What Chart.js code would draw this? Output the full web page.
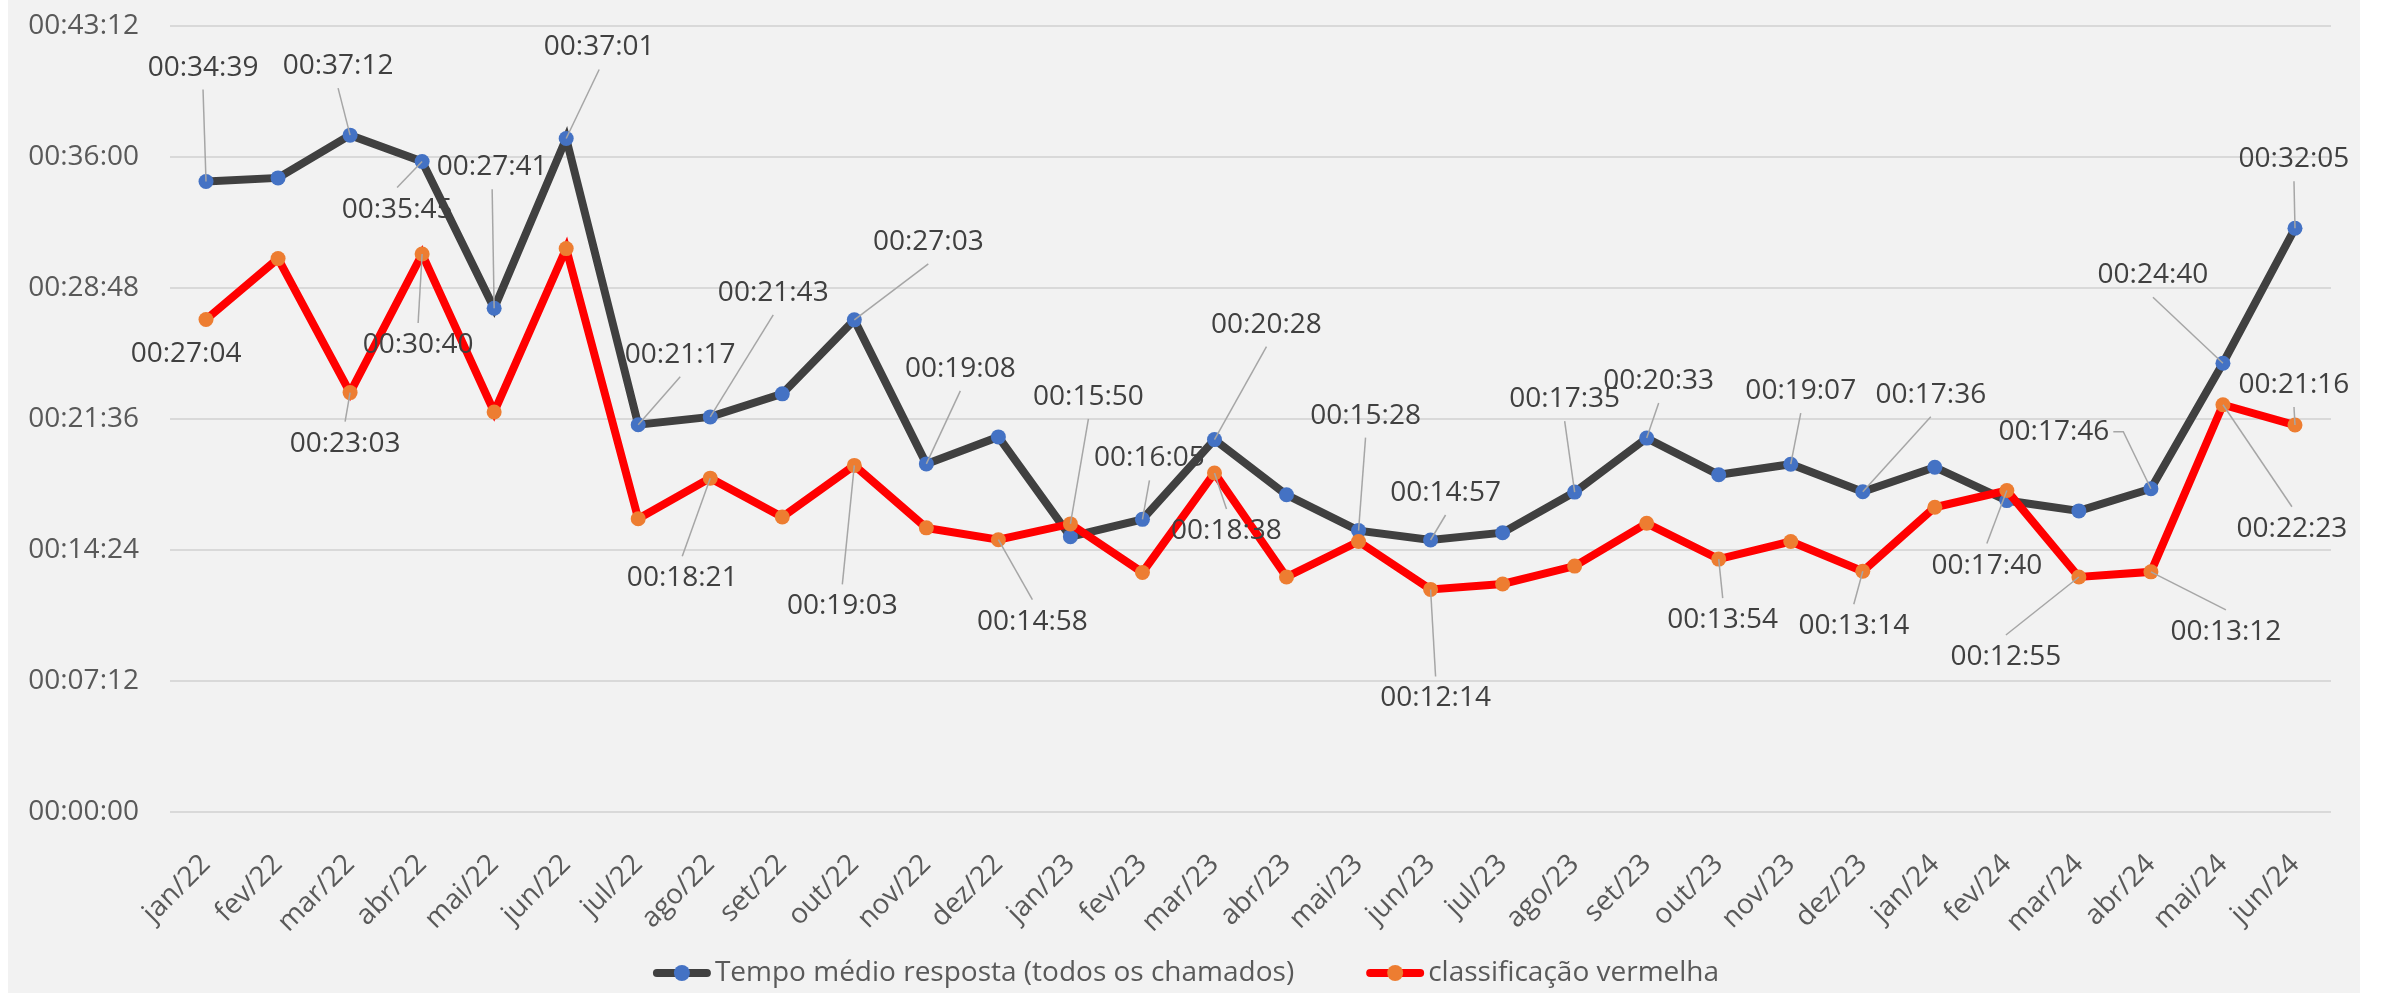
<!DOCTYPE html>
<html>
<head>
<meta charset="utf-8">
<script src="https://cdn.jsdelivr.net/npm/chart.js@4.4.1/dist/chart.umd.min.js"></script>
<style>
  html, body { margin: 0; padding: 0; background: #ffffff; }
  #wrap { width: 2381px; height: 994px; }
</style>
</head>
<body>
<div id="wrap"><canvas id="chart" width="2381" height="994"></canvas></div>
<script>
// months on the x axis
const months = ['jan/22', 'fev/22', 'mar/22', 'abr/22', 'mai/22', 'jun/22', 'jul/22', 'ago/22', 'set/22', 'out/22',
    'nov/22', 'dez/22', 'jan/23', 'fev/23', 'mar/23', 'abr/23', 'mai/23', 'jun/23', 'jul/23', 'ago/23',
    'set/23', 'out/23', 'nov/23', 'dez/23', 'jan/24', 'fev/24', 'mar/24', 'abr/24', 'mai/24', 'jun/24'];

// values in seconds
const tempoMedio = [2079, 2091, 2232, 2145, 1661, 2221, 1277, 1303, 1379, 1623,
    1148, 1237, 908, 965, 1228, 1046, 928, 897, 921, 1055,
    1233, 1112, 1147, 1056, 1137, 1027, 993, 1066, 1480, 1925];
const vermelha = [1624, 1825, 1383, 1840, 1319, 1858, 967, 1101, 973, 1143,
    937, 898, 950, 790, 1118, 775, 892, 734, 752, 811,
    952, 834, 892, 794, 1005, 1060, 775, 792, 1343, 1276];

// y axis: 00:00:00 .. 00:43:12 every 00:07:12
const yMax = 2592;
const yStep = 432;

// label placement (offset from the point, px) for the points that carry a label
const labelPosTempo = {
    0: [-3, -114], 2: [-12, -69], 3: [-25, 48], 4: [-2, -141], 5: [33, -91], 6: [42, -70],
    7: [63, -124], 9: [74, -78], 10: [34, -95], 13: [7, -61], 14: [52, -115], 16: [7, -115],
    17: [15, -47], 19: [-10, -93], 20: [12, -57], 22: [10, -73], 23: [68, -97],
    27: [-97, -57, 'side'], 28: [-70, -88], 29: [-1, -69]
};
const labelPosVermelha = {
    0: [-20, 34, 'none'], 2: [-5, 51], 3: [-4, 91], 7: [-28, 100], 9: [-12, 141], 11: [34, 82],
    12: [18, -127], 14: [12, 58], 17: [5, 109], 21: [4, 61], 23: [-9, 55], 25: [-20, 75],
    26: [-73, 80], 27: [75, 60], 28: [69, 124], 29: [-1, -40]
};

const FONT = '"Open Sans", "DejaVu Sans", sans-serif';

const fmt = (s) => {
    const h = Math.floor(s / 3600);
    const m = Math.floor((s % 3600) / 60);
    const sec = Math.round(s % 60);
    const p = (n) => String(n).padStart(2, '0');
    return `${p(h)}:${p(m)}:${p(sec)}`;
};

const background = {
    id: 'background',
    beforeDraw(chart) {
        const ctx = chart.ctx;
        ctx.save();
        ctx.fillStyle = '#ffffff';
        ctx.fillRect(0, 0, chart.width, chart.height);
        ctx.fillStyle = '#f2f2f2';
        ctx.fillRect(8, 0, 2352, 993);
        ctx.restore();
    }
};

// data labels with leader lines, like the Excel original
const dataLabels = {
    id: 'dataLabels',
    afterDatasetsDraw(chart) {
        const ctx = chart.ctx;
        const sets = [labelPosTempo, labelPosVermelha];
        ctx.save();
        ctx.font = '28px ' + FONT;
        sets.forEach((pos, di) => {
            const meta = chart.getDatasetMeta(di);
            const values = chart.data.datasets[di].data;
            Object.keys(pos).forEach(k => {
                const i = Number(k);
                const pt = meta.data[i];
                const [dx, dy, mode] = pos[k];
                const cx = pt.x + dx;
                const cy = pt.y + dy;
                const text = fmt(values[i]);
                const hw = ctx.measureText(text).width / 2 + 4;
                const hh = 22;

                if (mode !== 'none') {
                    ctx.strokeStyle = '#a6a6a6';
                    ctx.lineWidth = 1.5;
                    ctx.beginPath();
                    if (mode === 'side') {
                        const sx = cx + Math.sign(dx * -1) * hw;
                        ctx.moveTo(sx, cy);
                        ctx.lineTo(sx + Math.sign(-dx) * 10, cy);
                        ctx.lineTo(pt.x, pt.y);
                    } else {
                        let sx = cx, sy = cy;
                        if (pt.y > cy + hh) sy = cy + hh;
                        else if (pt.y < cy - hh) sy = cy - hh;
                        else sx = cx + (pt.x > cx ? hw : -hw);
                        ctx.moveTo(sx, sy);
                        ctx.lineTo(pt.x, pt.y);
                    }
                    ctx.stroke();
                }

                ctx.fillStyle = '#404040';
                ctx.textAlign = 'center';
                ctx.textBaseline = 'middle';
                ctx.fillText(text, cx, cy);
            });
        });
        ctx.restore();
    }
};

// legend: thick line with a marker in the middle, then the text
const customLegend = {
    id: 'customLegend',
    afterDraw(chart) {
        const ctx = chart.ctx;
        const y = 973;
        const lineW = 58;
        const gapText = 4;
        const gapItems = 72;
        ctx.save();
        ctx.font = '28px ' + FONT;
        const items = chart.data.datasets.map(ds => ({
            text: ds.label,
            line: ds.borderColor,
            dot: ds.pointBackgroundColor,
            w: lineW + gapText + ctx.measureText(ds.label).width
        }));
        const total = items.reduce((a, it) => a + it.w, 0) + gapItems * (items.length - 1);
        let x = 1186 - total / 2;
        items.forEach(it => {
            ctx.strokeStyle = it.line;
            ctx.lineWidth = 8;
            ctx.lineCap = 'round';
            ctx.beginPath();
            ctx.moveTo(x + 4, y);
            ctx.lineTo(x + lineW - 4, y);
            ctx.stroke();
            ctx.fillStyle = it.dot;
            ctx.beginPath();
            ctx.arc(x + lineW / 2, y, 8, 0, Math.PI * 2);
            ctx.fill();
            ctx.fillStyle = '#595959';
            ctx.textAlign = 'left';
            ctx.textBaseline = 'middle';
            ctx.fillText(it.text, x + lineW + gapText, y);
            x += it.w + gapItems;
        });
        ctx.restore();
    }
};

Chart.defaults.font.family = FONT;
Chart.defaults.font.size = 28;
Chart.defaults.color = '#595959';

const ctx = document.getElementById('chart').getContext('2d');
const chart = new Chart(ctx, {
    type: 'line',
    data: {
        labels: months,
        datasets: [{
            label: 'Tempo médio resposta (todos os chamados)',
            data: tempoMedio,
            borderColor: '#404040',
            borderWidth: 8,
            pointBackgroundColor: '#4472c4',
            pointBorderWidth: 0,
            pointRadius: 7.5,
            tension: 0,
            order: 2
        }, {
            label: 'classificação vermelha',
            data: vermelha,
            borderColor: '#ff0000',
            borderWidth: 8,
            pointBackgroundColor: '#ed7d31',
            pointBorderWidth: 0,
            pointRadius: 7.5,
            tension: 0,
            order: 1
        }]
    },
    options: {
        responsive: false,
        animation: false,
        layout: {
            padding: { left: 0, right: 50, top: 26, bottom: 0 }
        },
        scales: {
            x: {
                offset: true,
                grid: { display: false, drawTicks: false },
                border: { display: false },
                ticks: {
                    autoSkip: false,
                    minRotation: 45,
                    maxRotation: 45,
                    padding: 36,
                    color: '#595959'
                },
                afterFit: (scale) => { scale.height = 182; }
            },
            y: {
                min: 0,
                max: yMax,
                grid: {
                    color: '#d9d9d9',
                    lineWidth: 2,
                    drawTicks: true,
                    tickLength: 31,
                    tickColor: 'rgba(0,0,0,0)'
                },
                border: { display: false },
                ticks: {
                    stepSize: yStep,
                    padding: 0,
                    color: '#595959',
                    callback: (v) => fmt(v)
                },
                afterFit: (scale) => { scale.width = 170; }
            }
        },
        plugins: {
            legend: { display: false },
            tooltip: { enabled: false }
        }
    },
    plugins: [background, dataLabels, customLegend]
});
</script>
</body>
</html>
